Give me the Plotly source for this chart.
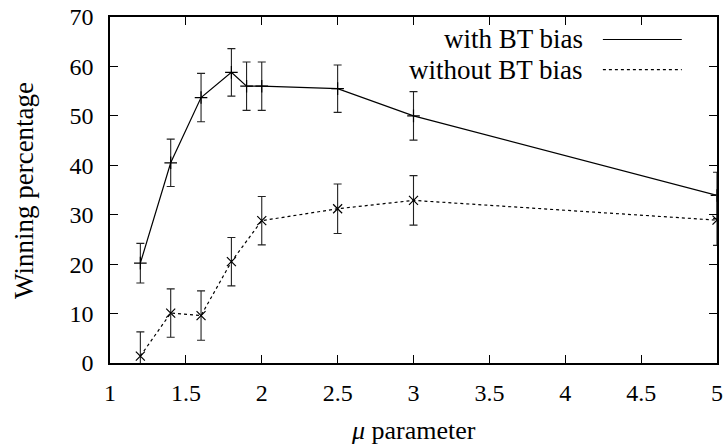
import plotly.graph_objects as go

# data
mu_with = [1.2, 1.4, 1.6, 1.8, 1.9, 2.0, 2.5, 3.0, 5.0]
win_with = [20.2, 40.5, 53.7, 58.8, 56.0, 56.0, 55.5, 50.0, 33.9]
err_with = [4.0, 4.8, 4.9, 4.8, 4.9, 4.9, 4.8, 4.9, 4.7]

mu_without = [1.2, 1.4, 1.6, 1.8, 2.0, 2.5, 3.0, 5.0]
win_without = [1.4, 10.1, 9.6, 20.5, 28.8, 31.2, 32.9, 28.9]
err_without = [4.9, 4.9, 5.0, 4.9, 4.9, 5.0, 5.0, 5.1]

x_ticks = [1, 1.5, 2, 2.5, 3, 3.5, 4, 4.5, 5]
x_tick_labels = ["1", "1.5", "2", "2.5", "3", "3.5", "4", "4.5", "5"]
y_ticks = [0, 10, 20, 30, 40, 50, 60, 70]

series_names = ["with BT bias", "without BT bias"]
x_title = "<i>μ</i> parameter"
y_title = "Winning percentage"

FONT = "Liberation Serif"

fig = go.Figure()
fig.add_trace(go.Scatter(
    x=mu_with, y=win_with, mode="lines+markers", name=series_names[0],
    line=dict(color="black", width=1.2),
    marker=dict(symbol="cross-thin", size=9, line=dict(width=1.2, color="black"), color="black"),
    error_y=dict(type="data", array=err_with, color="#222", thickness=1.1, width=4),
    showlegend=False,
))
fig.add_trace(go.Scatter(
    x=mu_without, y=win_without, mode="lines+markers", name=series_names[1],
    line=dict(color="black", width=1.2, dash="3px,3px"),
    marker=dict(symbol="x-thin", size=9, line=dict(width=1.2, color="black"), color="black"),
    error_y=dict(type="data", array=err_without, color="#222", thickness=1.1, width=4),
    showlegend=False,
))

# hand-drawn legend (text left of sample line, like gnuplot)
legend_rows = [(0.935, "solid"), (0.848, "3px,3px")]
for (yy, dash), name in zip(legend_rows, series_names):
    fig.add_annotation(x=0.7825, y=yy, xref="paper", yref="paper", text=name,
                       showarrow=False, xanchor="right", yanchor="middle",
                       font=dict(family=FONT, size=27, color="black"))
    fig.add_shape(type="line", xref="paper", yref="paper", x0=0.812, x1=0.942,
                  y0=yy, y1=yy, line=dict(color="black", width=1.2, dash=dash))

# axis titles as annotations for precise placement
fig.add_annotation(x=0.5, y=-0.196, xref="paper", yref="paper", text=x_title,
                   showarrow=False, xanchor="center", yanchor="middle",
                   font=dict(family=FONT, size=26, color="black"))
fig.add_annotation(x=-0.1417, y=0.5, xref="paper", yref="paper", text=y_title,
                   showarrow=False, xanchor="center", yanchor="middle", textangle=-90,
                   font=dict(family=FONT, size=27, color="black"))

axis_common = dict(
    showgrid=False, zeroline=False, showline=True, linecolor="black", linewidth=1.5,
    mirror="allticks", ticks="inside", ticklen=8, tickwidth=1, tickcolor="black",
    tickfont=dict(family=FONT, size=24, color="black"),
)

fig.update_xaxes(range=[1, 5], tickvals=x_ticks, ticktext=x_tick_labels,
                 ticklabelstandoff=7, **axis_common)
fig.update_yaxes(range=[0, 70], tickvals=y_ticks,
                 ticklabelstandoff=10, **axis_common)

fig.update_layout(
    width=728, height=447,
    margin=dict(l=110, r=11, t=17, b=84, autoexpand=False),
    plot_bgcolor="white", paper_bgcolor="white",
)

fig.write_html("out.html", config={"displayModeBar": False},
               post_script="document.body.style.margin='0';document.body.style.overflow='hidden';")
